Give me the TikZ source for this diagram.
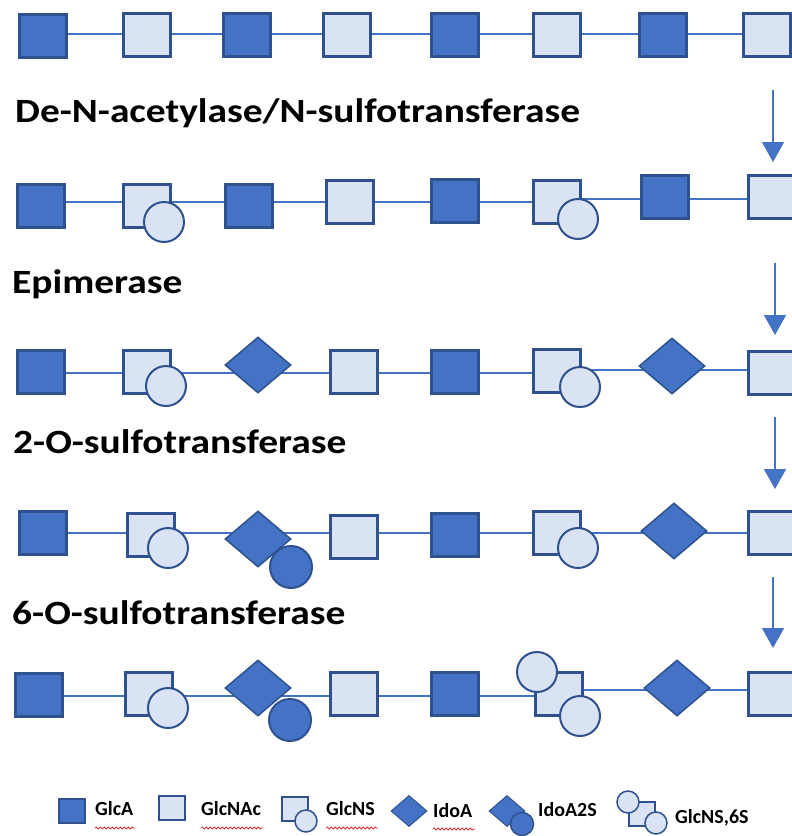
\documentclass[tikz,border=0pt]{standalone}
\usepackage{fontspec}
\setmainfont{Carlito}
\usetikzlibrary{shapes.geometric,arrows.meta,backgrounds,decorations.pathmorphing}
\definecolor{dk}{HTML}{4472C4}
\definecolor{lt}{HTML}{DAE3F3}
\definecolor{bdr}{HTML}{2F528F}
\definecolor{wavy}{HTML}{E03030}
\newcommand{\wide}[1]{\scalebox{1.16}[1]{#1}}
\tikzset{
  dsq/.style={shape=rectangle,draw=bdr,fill=dk,line width=2.5pt,minimum width=47pt,minimum height=43pt,inner sep=0pt},
  lsq/.style={shape=rectangle,draw=bdr,fill=lt,line width=2.5pt,minimum width=47pt,minimum height=43pt,inner sep=0pt},
  dia/.style={shape=diamond,draw=bdr,fill=dk,line width=1.5pt,minimum width=66pt,minimum height=56pt,inner sep=0pt},
  lcirc/.style={shape=circle,draw=bdr,fill=lt,line width=2pt,minimum size=40pt,inner sep=0pt},
  dcirc/.style={shape=circle,draw=bdr,fill=dk,line width=2pt,minimum size=42pt,inner sep=0pt},
  ldsq/.style={shape=rectangle,draw=bdr,fill=dk,line width=1.5pt,minimum width=26pt,minimum height=24pt,inner sep=0pt},
  llsq/.style={shape=rectangle,draw=bdr,fill=lt,line width=1.5pt,minimum width=26pt,minimum height=24pt,inner sep=0pt},
  ldia/.style={shape=diamond,draw=bdr,fill=dk,line width=1pt,minimum width=36pt,minimum height=31pt,inner sep=0pt},
  llcirc/.style={shape=circle,draw=bdr,fill=lt,line width=1.5pt,minimum size=22pt,inner sep=0pt},
  ldcirc/.style={shape=circle,draw=bdr,fill=dk,line width=1.5pt,minimum size=23pt,inner sep=0pt},
  bb/.style={draw=dk,line width=2.5pt},
  arr/.style={draw=dk,line width=1.5pt,-{Triangle[width=22pt,length=20pt]}},
  lab/.style={anchor=base west,inner sep=0pt,font=\fontsize{34}{40}\selectfont\bfseries},
  leg/.style={anchor=base west,inner sep=0pt,font=\fontsize{20}{24}\selectfont\bfseries},
  squig/.style={draw=wavy,line width=0.8pt,decorate,decoration={snake,amplitude=1pt,segment length=4pt}}
}
\begin{document}
\begin{tikzpicture}[x=1pt,y=-1pt]
\useasboundingbox (0,0) rectangle (792,836);
% ---------- row 1
\node[dsq] (a1) at (43,36) {};
\node[lsq] (a2) at (147,35) {};
\node[dsq] (a3) at (247,35) {};
\node[lsq] (a4) at (347,35) {};
\node[dsq] (a5) at (455,35) {};
\node[lsq] (a6) at (557,35) {};
\node[dsq] (a7) at (663,35) {};
\node[lsq] (a8) at (767,35) {};
% ---------- row 2
\node[dsq] (b1) at (41,206) {};
\node[lsq] (b2) at (147,206) {};
\node[lcirc] (b2c) at (164,222) {};
\node[dsq] (b3) at (249,206) {};
\node[lsq] (b4) at (350,202) {};
\node[dsq] (b5) at (455,201) {};
\node[lsq] (b6) at (557,202) {};
\node[lcirc] (b6c) at (578,219) {};
\node[dsq] (b7) at (665,197) {};
\node[lsq] (b8) at (772,197) {};
% ---------- row 3
\node[dsq] (c1) at (41,372) {};
\node[lsq] (c2) at (147,372) {};
\node[lcirc] (c2c) at (166,386) {};
\node[dia] (c3) at (258,365) {};
\node[lsq] (c4) at (354,372) {};
\node[dsq] (c5) at (455,372) {};
\node[lsq] (c6) at (557,371) {};
\node[lcirc] (c6c) at (580,387) {};
\node[dia] (c7) at (672,366) {};
\node[lsq] (c8) at (772,373) {};
% ---------- row 4
\node[dsq] (d1) at (43,533) {};
\node[lsq] (d2) at (151,535) {};
\node[lcirc] (d2c) at (168,548) {};
\node[dia] (d3) at (258,539) {};
\node[dcirc] (d3c) at (291,567) {};
\node[lsq] (d4) at (354,537) {};
\node[dsq] (d5) at (455,535) {};
\node[lsq] (d6) at (557,533) {};
\node[lcirc] (d6c) at (578,548) {};
\node[dia] (d7) at (674,531) {};
\node[lsq] (d8) at (772,533) {};
% ---------- row 5
\node[dsq] (e1) at (39,695) {};
\node[lsq] (e2) at (149,694) {};
\node[lcirc] (e2c) at (168,708) {};
\node[dia] (e3) at (258,688) {};
\node[dcirc] (e3c) at (290,720) {};
\node[lsq] (e4) at (354,694) {};
\node[dsq] (e5) at (455,694) {};
\node[lsq] (e6) at (559,694) {};
\node[lcirc] (e6t) at (537,672) {};
\node[lcirc] (e6b) at (580,716) {};
\node[dia] (e7) at (677,688) {};
\node[lsq] (e8) at (772,694) {};
% ---------- backbones (horizontal chains, behind the residues)
\coordinate (l1) at (43,34);
\coordinate (l2a) at (41,202); \coordinate (l2b) at (557,199);
\coordinate (l3a) at (41,373); \coordinate (l3b) at (557,370);
\coordinate (l4) at (43,533);
\coordinate (l5a) at (39,696); \coordinate (l5b) at (559,690);
\begin{pgfonlayer}{background}
\draw[bb] (l1) -- (l1 -| a8);
\draw[bb] (l2a) -- (l2a -| b6) -- (l2b) -- (l2b -| b8);
\draw[bb] (l3a) -- (l3a -| c6) -- (l3b) -- (l3b -| c8);
\draw[bb] (l4) -- (l4 -| d8);
\draw[bb] (l5a) -- (l5a -| e6) -- (l5b) -- (l5b -| e8);
\end{pgfonlayer}
% ---------- labels
\node[lab] (t1) at (15,122) {\wide{De-N-acetylase/N-sulfotransferase}};
\node[lab] (t2) at (12,293) {\wide{Epimerase}};
\node[lab] (t3) at (13,453) {\wide{2-O-sulfotransferase}};
\node[lab] (t4) at (12,624) {\wide{6-O-sulfotransferase}};
% ---------- arrows
\coordinate (p1s) at (773,90);  \coordinate (p1e) at (773,162);
\coordinate (p2s) at (775,263); \coordinate (p2e) at (775,335);
\coordinate (p3s) at (775,417); \coordinate (p3e) at (775,489);
\coordinate (p4s) at (773,577); \coordinate (p4e) at (773,648);
\draw[arr] (p1s) -- (p1e);
\draw[arr] (p2s) -- (p2e);
\draw[arr] (p3s) -- (p3e);
\draw[arr] (p4s) -- (p4e);
% ---------- legend
\node[ldsq] (g1) at (72,811) {};
\node[leg] (g1t) at (95,815) {GlcA};
\node[llsq] (g2) at (172,808) {};
\node[leg] (g2t) at (201,815) {GlcNAc};
\node[llsq] (g3) at (295,809) {};
\node[llcirc] (g3c) at (306,821) {};
\node[leg] (g3t) at (326,815) {GlcNS};
\node[ldia] (g4) at (409,811) {};
\node[leg] (g4t) at (433,817) {IdoA};
\node[ldia] (g5) at (507,811) {};
\node[ldcirc] (g5c) at (522,824) {};
\node[leg] (g5t) at (538,816) {IdoA2S};
\node[llsq] (g6) at (642,814) {};
\node[llcirc] (g6t) at (628,802) {};
\node[llcirc] (g6b) at (656,823) {};
\node[leg] (g6x) at (675,823) {GlcNS,6S};
% spell-check underlines
\draw[squig] (g1t.base west) ++(0,13) -- ++(40,0);
\draw[squig] (g2t.base west) ++(0,13) -- ++(62,0);
\draw[squig] (g3t.base west) ++(0,13) -- ++(52,0);
\draw[squig] (g4t.base west) ++(0,12) -- ++(42,0);
\end{tikzpicture}
\end{document}
